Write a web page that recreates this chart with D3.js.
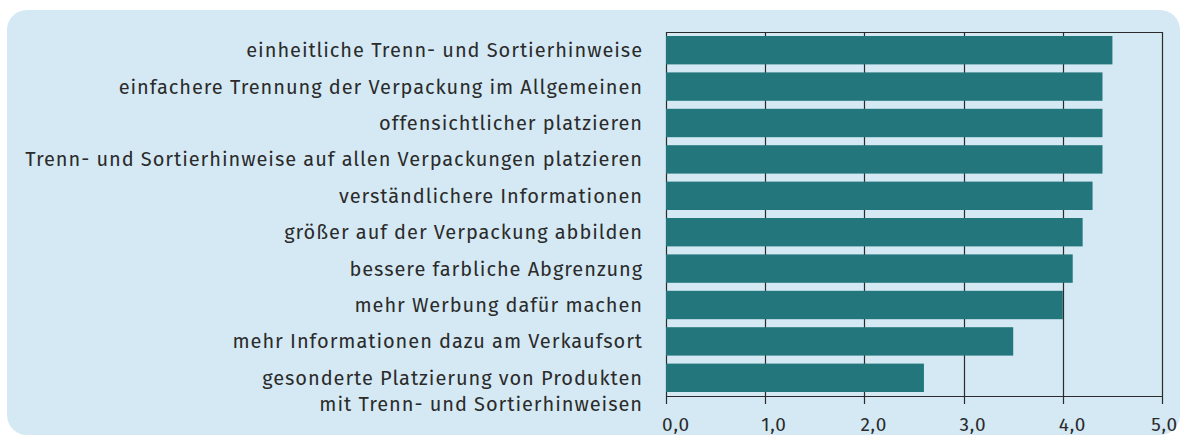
<!DOCTYPE html>
<html>
<head>
<meta charset="utf-8">
<script src="https://cdn.jsdelivr.net/npm/d3@7"></script>
<style>
  body { margin: 0; background: #fff; }
  text { font-family: "Fira Sans", "Open Sans", "Noto Sans", sans-serif; fill: #2b2b2b; }
</style>
</head>
<body>
<svg width="1188" height="436"></svg>
<script>
const categories = [
  ['einheitliche Trenn- und Sortierhinweise'],
  ['einfachere Trennung der Verpackung im Allgemeinen'],
  ['offensichtlicher platzieren'],
  ['Trenn- und Sortierhinweise auf allen Verpackungen platzieren'],
  ['verständlichere Informationen'],
  ['größer auf der Verpackung abbilden'],
  ['bessere farbliche Abgrenzung'],
  ['mehr Werbung dafür machen'],
  ['mehr Informationen dazu am Verkaufsort'],
  ['gesonderte Platzierung von Produkten', 'mit Trenn- und Sortierhinweisen']
];
const values = [4.5, 4.4, 4.4, 4.4, 4.3, 4.2, 4.1, 4.0, 3.5, 2.6];
const ticks = [0, 1, 2, 3, 4, 5];

const svg = d3.select('svg');

svg.append('rect')
    .attr('x', 7).attr('y', 10)
    .attr('width', 1173).attr('height', 425)
    .attr('rx', 20)
    .attr('fill', '#d4e9f4');

const plotLeft = 666, plotRight = 1162, plotTop = 32, plotBottom = 396;

const x = d3.scaleLinear().domain([0, 5]).range([plotLeft, plotRight]);
const y = d3.scaleBand()
    .domain(d3.range(values.length))
    .range([plotTop, plotBottom])
    .paddingInner(0.22)
    .paddingOuter(0.11);

const g = svg.append('g');

// gridlines + frame
g.selectAll('line.grid')
    .data(ticks).enter()
    .append('line')
        .attr('class', 'grid')
        .attr('x1', d => Math.round(x(d)) + 0.5)
        .attr('x2', d => Math.round(x(d)) + 0.5)
        .attr('y1', plotTop)
        .attr('y2', plotBottom + 8)
        .attr('stroke', '#2b2b2b')
        .attr('stroke-width', 1.2);

g.append('line')
    .attr('x1', x(0)).attr('x2', x(5) + 1)
    .attr('y1', plotTop + 0.5).attr('y2', plotTop + 0.5)
    .attr('stroke', '#2b2b2b').attr('stroke-width', 1.2);

g.append('line')
    .attr('x1', x(0)).attr('x2', x(5) + 1)
    .attr('y1', plotBottom + 0.5).attr('y2', plotBottom + 0.5)
    .attr('stroke', '#2b2b2b').attr('stroke-width', 1.2);

// bars
g.selectAll('rect.bar')
    .data(values).enter()
    .append('rect')
        .attr('class', 'bar')
        .attr('x', x(0))
        .attr('y', (d, i) => y(i))
        .attr('width', d => x(d) - x(0))
        .attr('height', y.bandwidth())
        .attr('fill', '#22767c');

// tick labels
g.selectAll('text.tick')
    .data(ticks).enter()
    .append('text')
        .attr('class', 'tick')
        .attr('x', d => d === 5 ? x(d) + 16 : x(d) - 4)
        .attr('y', 431)
        .attr('text-anchor', d => d === 5 ? 'end' : 'start')
        .attr('font-size', 19)
        .attr('letter-spacing', 0.8)
        .text(d => d3.format('.1f')(d).replace('.', ','));

// category labels
const labels = g.selectAll('text.cat')
    .data(categories).enter()
    .append('text')
        .attr('class', 'cat')
        .attr('text-anchor', 'end')
        .attr('font-size', 20)
        .attr('letter-spacing', 0.95)
        .attr('y', (d, i) => y(i) + y.bandwidth() / 2 + 7);

labels.selectAll('tspan')
    .data(d => d).enter()
    .append('tspan')
        .attr('x', 643)
        .attr('dy', (d, j) => j === 0 ? 0 : 26)
        .text(d => d);
</script>
</body>
</html>
